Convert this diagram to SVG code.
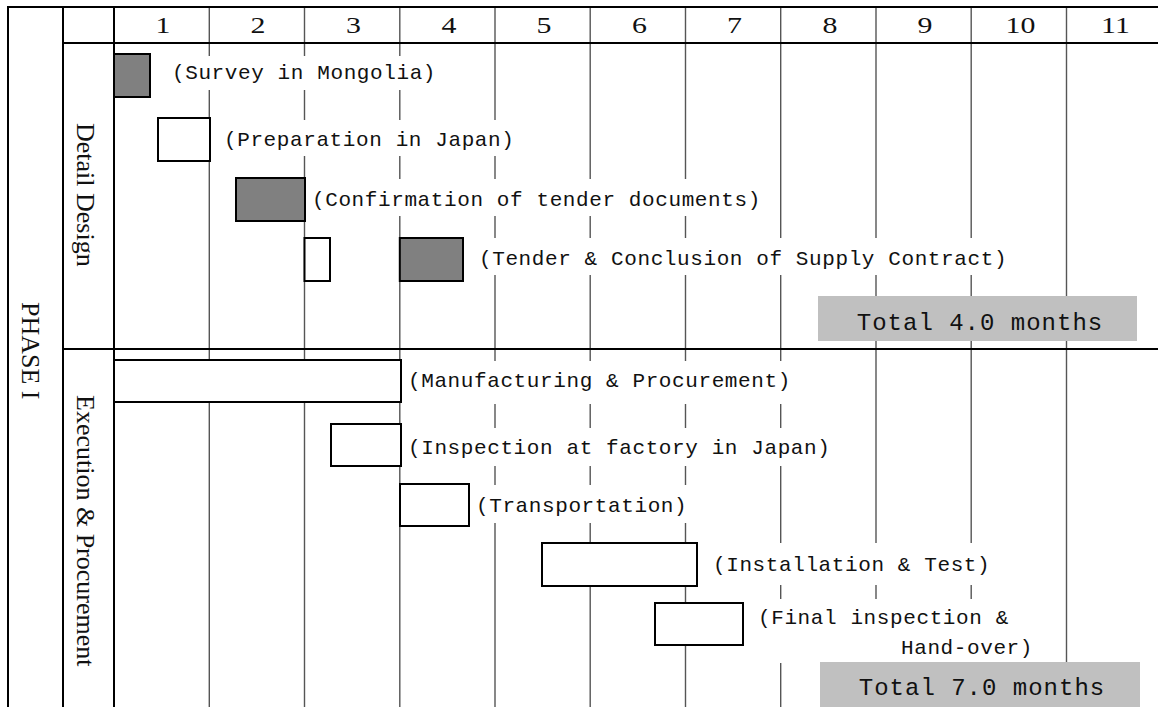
<svg xmlns="http://www.w3.org/2000/svg" width="1158" height="707" viewBox="0 0 1158 707">
<style>
.frame{stroke:#000;stroke-width:2;fill:none}
.col{stroke:#555;stroke-width:1.4}
.bg{fill:#fff}
.bar{stroke:#000;stroke-width:2}
.grey{fill:#808080}
.white{fill:#fff}
.lbl{font-family:"Liberation Mono",monospace;font-size:21px;letter-spacing:0.6px;fill:#111}
.tot{font-family:"Liberation Mono",monospace;font-size:24px;letter-spacing:1px;fill:#111;text-anchor:middle}
.hdr{font-family:"Liberation Serif",serif;font-size:23px;fill:#111;text-anchor:middle}
.vt{font-family:"Liberation Serif",serif;font-size:26px;fill:#111}
.totbox{fill:#c0c0c0}
</style>
<rect x="0" y="0" width="1158" height="707" fill="#fff"/>
<g id="grid">
<line class="col" x1="209.3" y1="7" x2="209.3" y2="707"/>
<line class="col" x1="304.5" y1="7" x2="304.5" y2="707" stroke="#111"/>
<line class="col" x1="399.8" y1="7" x2="399.8" y2="707"/>
<line class="col" x1="495" y1="7" x2="495" y2="707" stroke="#333"/>
<line class="col" x1="590.2" y1="7" x2="590.2" y2="707"/>
<line class="col" x1="685.5" y1="7" x2="685.5" y2="707"/>
<line class="col" x1="780.7" y1="7" x2="780.7" y2="707" stroke="#111"/>
<line class="col" x1="876" y1="7" x2="876" y2="707"/>
<line class="col" x1="971.2" y1="7" x2="971.2" y2="707" stroke="#333"/>
<line class="col" x1="1066.5" y1="7" x2="1066.5" y2="707"/>
</g>
<g id="label-backgrounds">
<rect class="bg" x="168" y="56" width="272" height="34"/>
<rect class="bg" x="220" y="120" width="298" height="36"/>
<rect class="bg" x="308" y="179" width="458" height="37"/>
<rect class="bg" x="475" y="238" width="536" height="37"/>
<rect class="bg" x="404" y="361" width="390" height="43"/>
<rect class="bg" x="404" y="428" width="430" height="38"/>
<rect class="bg" x="472" y="485" width="219" height="38"/>
<rect class="bg" x="709" y="543" width="285" height="42"/>
<rect class="bg" x="754" y="599" width="287" height="64"/>
</g>
<g id="frame">
<line class="frame" x1="8" y1="7" x2="1158" y2="7"/>
<line class="frame" x1="63" y1="43" x2="1158" y2="43"/>
<line class="frame" x1="63" y1="349" x2="1158" y2="349"/>
<line class="frame" x1="8" y1="6" x2="8" y2="707"/>
<line class="frame" x1="63" y1="6" x2="63" y2="707"/>
<line class="frame" x1="114" y1="6" x2="114" y2="707"/>
</g>
<g id="header">
<text class="hdr" transform="translate(163,33) scale(1.3,1)">1</text>
<text class="hdr" transform="translate(258,33) scale(1.3,1)">2</text>
<text class="hdr" transform="translate(353.5,33) scale(1.3,1)">3</text>
<text class="hdr" transform="translate(449,33) scale(1.3,1)">4</text>
<text class="hdr" transform="translate(544,33) scale(1.3,1)">5</text>
<text class="hdr" transform="translate(639.5,33) scale(1.3,1)">6</text>
<text class="hdr" transform="translate(734.5,33) scale(1.3,1)">7</text>
<text class="hdr" transform="translate(830,33) scale(1.3,1)">8</text>
<text class="hdr" transform="translate(925,33) scale(1.3,1)">9</text>
<text class="hdr" transform="translate(1020.5,33) scale(1.3,1)">10</text>
<text class="hdr" transform="translate(1115.5,33) scale(1.3,1)">11</text>
</g>
<g id="phase-label">
<text class="vt" font-size="30" transform="translate(22,302) rotate(90)">PHASE I</text>
</g>
<g id="section-detail-design">
<text class="vt" transform="translate(77,123) rotate(90)">Detail Design</text>
</g>
<g id="section-execution">
<text class="vt" transform="translate(77,395) rotate(90)">Execution &amp; Procurement</text>
</g>
<g id="task-survey">
<rect class="bar grey" x="114" y="54" width="36" height="43"/>
<text class="lbl" x="172" y="79">(Survey in Mongolia)</text>
</g>
<g id="task-preparation">
<rect class="bar white" x="158" y="118" width="52" height="43"/>
<text class="lbl" x="224" y="146">(Preparation in Japan)</text>
</g>
<g id="task-confirmation">
<rect class="bar grey" x="236" y="178" width="69" height="43"/>
<text class="lbl" x="312" y="206">(Confirmation of tender documents)</text>
</g>
<g id="task-tender">
<rect class="bar white" x="304.5" y="238" width="25.5" height="43"/>
<rect class="bar grey" x="399.8" y="238" width="63.2" height="43"/>
<text class="lbl" x="479" y="265">(Tender &amp; Conclusion of Supply Contract)</text>
</g>
<g id="total-detail">
<rect class="totbox" x="818" y="296" width="319" height="45"/>
<text class="tot" x="980" y="330">Total 4.0 months</text>
</g>
<g id="task-manufacturing">
<rect class="bar white" x="114" y="360" width="287" height="42"/>
<text class="lbl" x="408" y="387">(Manufacturing &amp; Procurement)</text>
</g>
<g id="task-inspection">
<rect class="bar white" x="331" y="424" width="70" height="42"/>
<text class="lbl" x="408" y="454">(Inspection at factory in Japan)</text>
</g>
<g id="task-transportation">
<rect class="bar white" x="400" y="484" width="69" height="42"/>
<text class="lbl" x="476" y="512">(Transportation)</text>
</g>
<g id="task-installation">
<rect class="bar white" x="542" y="543" width="155" height="43"/>
<text class="lbl" x="713" y="571">(Installation &amp; Test)</text>
</g>
<g id="task-final">
<rect class="bar white" x="655" y="603" width="88" height="42"/>
<text class="lbl" x="758" y="624">(Final inspection &amp;</text>
<text class="lbl" x="901" y="654">Hand-over)</text>
</g>
<g id="total-execution">
<rect class="totbox" x="820" y="662" width="320" height="45"/>
<text class="tot" x="982" y="695">Total 7.0 months</text>
</g>
<g id="connectors"/>
</svg>
